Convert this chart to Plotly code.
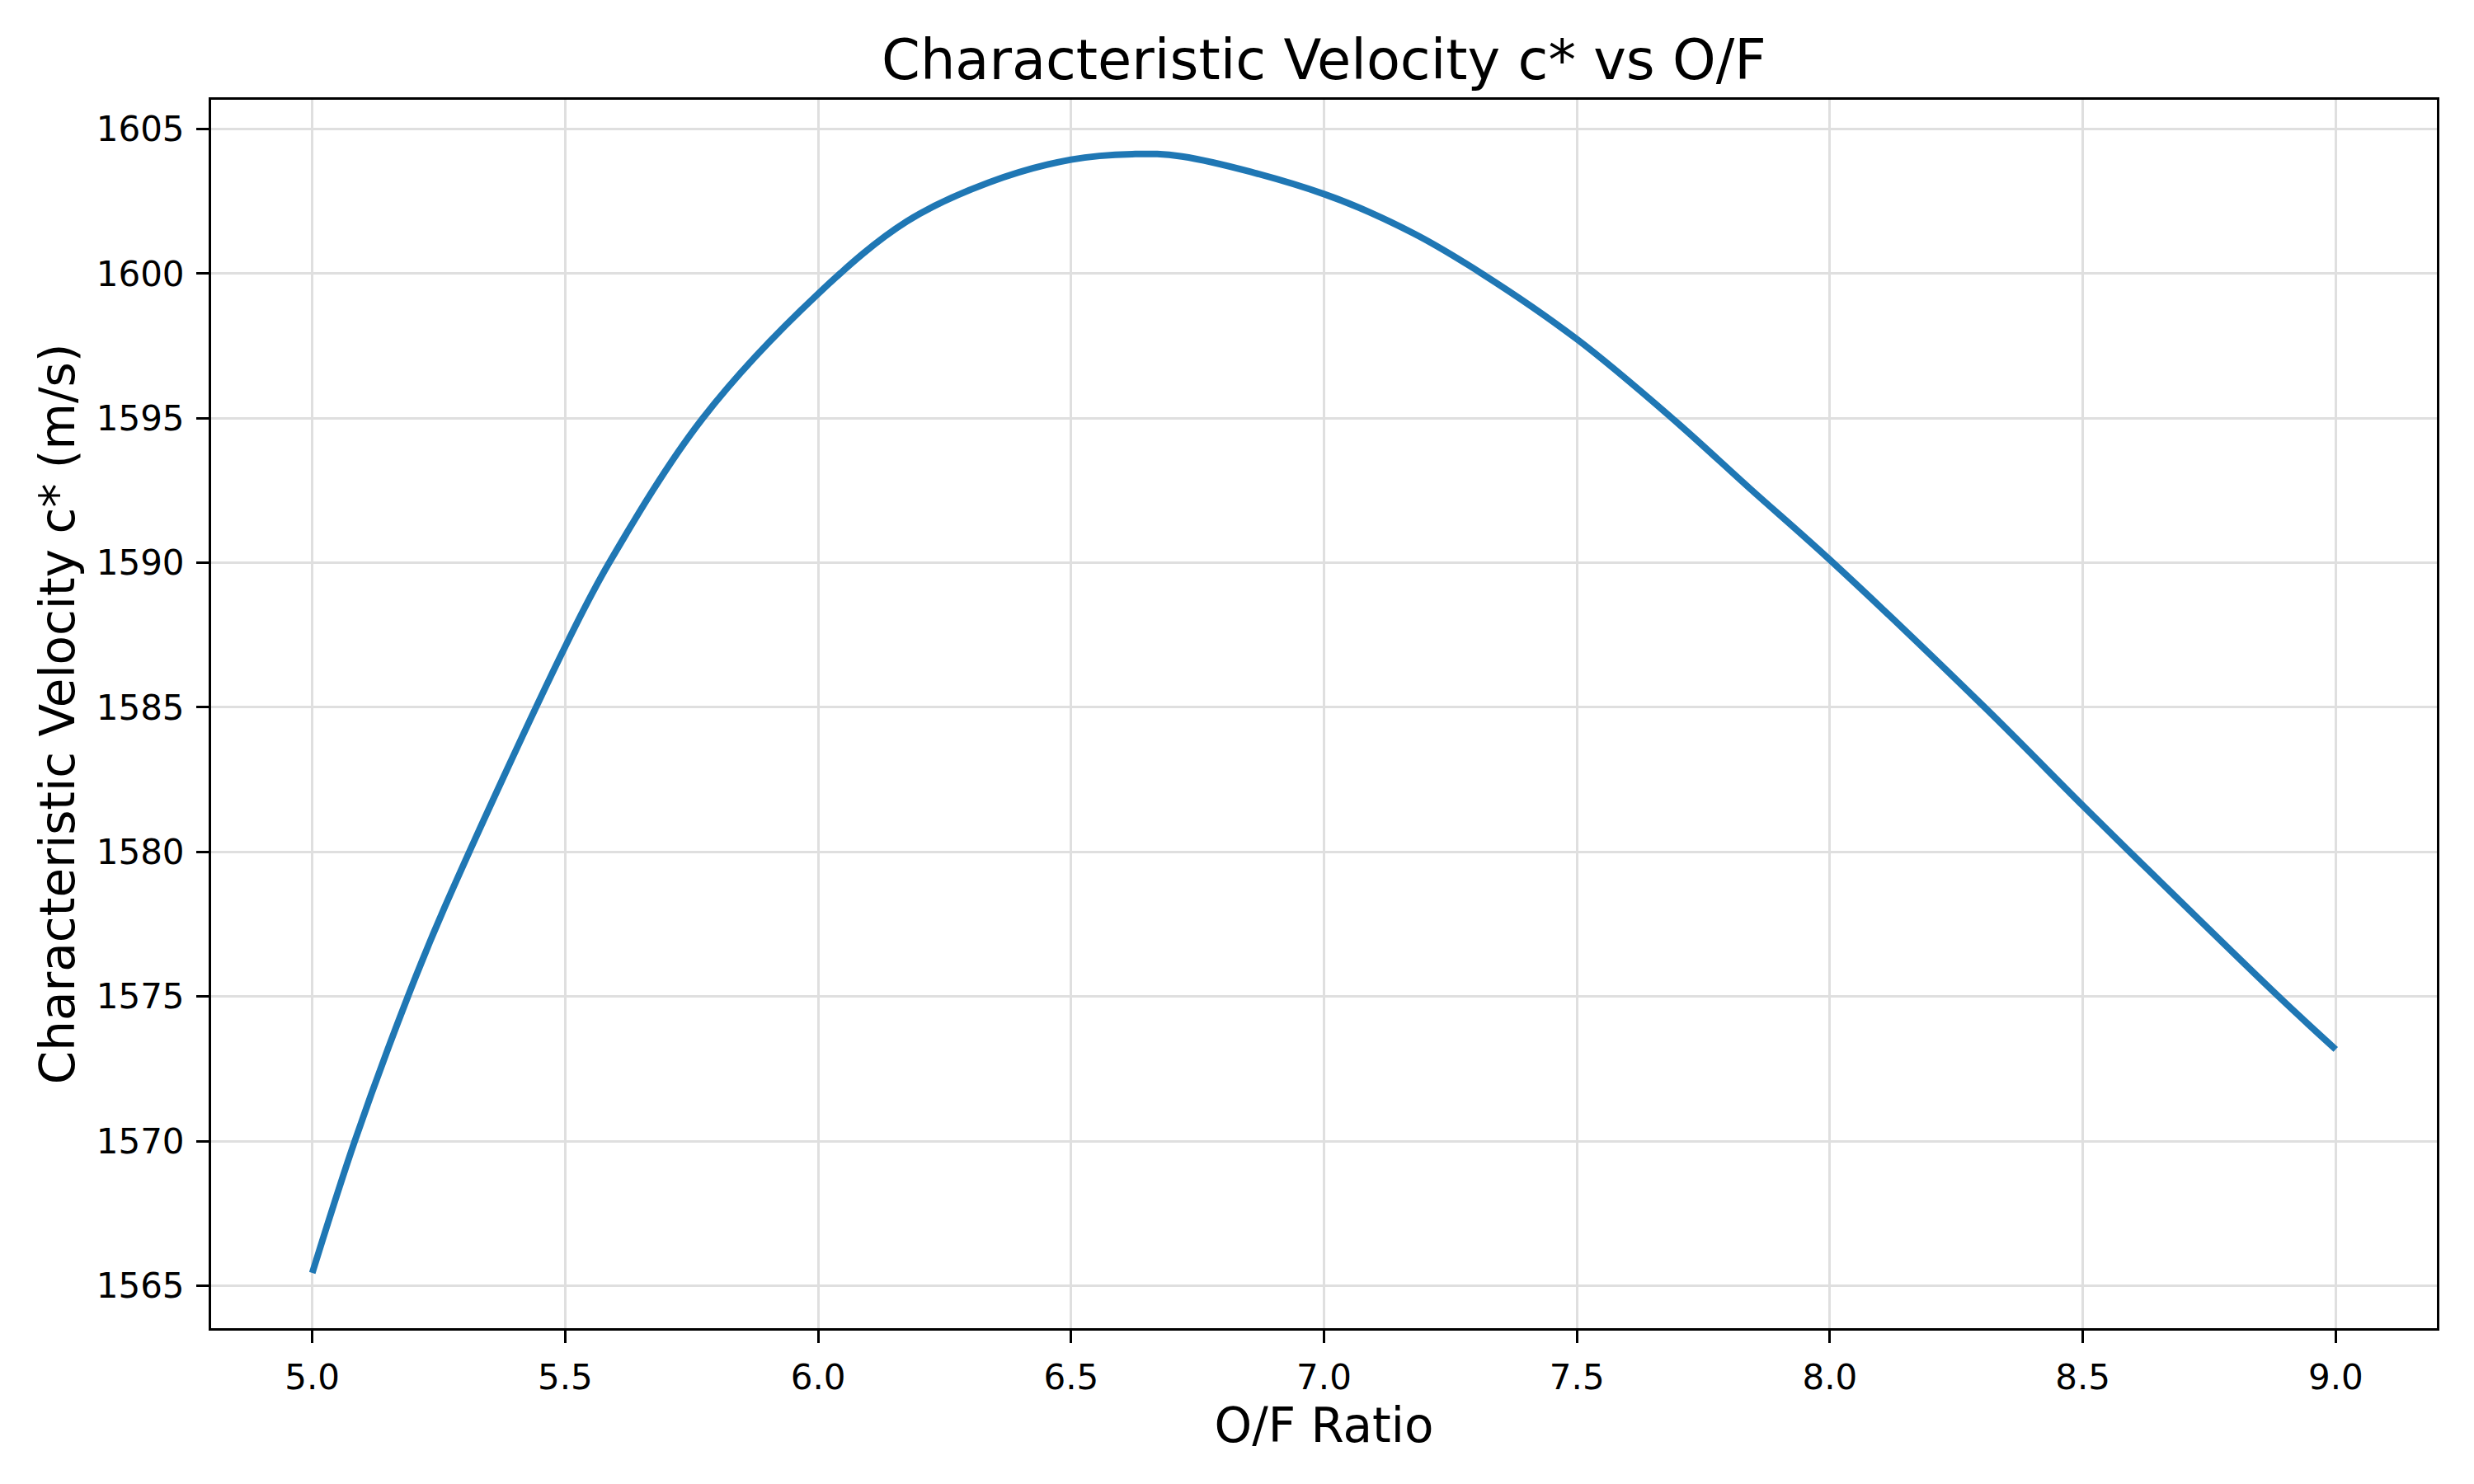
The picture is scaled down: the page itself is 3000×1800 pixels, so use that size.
import plotly.graph_objects as go

# O/F ratio values
of_ratio = [5.0, 5.084, 5.189, 5.262, 5.5, 5.587, 5.772, 6.0,
            6.175, 6.338, 6.5, 6.621, 6.719, 7.0, 7.176, 7.312, 7.5, 7.688,
            7.843, 8.0, 8.306, 8.5, 8.593, 8.887, 9.0]
# Characteristic velocity c* (m/s)
c_star = [1565.44, 1570.0, 1575.0, 1578.1, 1587.1, 1590.0, 1595.0, 1599.3,
          1601.8, 1603.15, 1603.94, 1604.13, 1604.05, 1602.75, 1601.4, 1600.0, 1597.73, 1595.0,
          1592.55, 1590.1, 1585.0, 1581.6, 1580.0, 1575.0, 1573.17]

x_ticks = [5.0, 5.5, 6.0, 6.5, 7.0, 7.5, 8.0, 8.5, 9.0]
y_ticks = [1565, 1570, 1575, 1580, 1585, 1590, 1595, 1600, 1605]

FONT = "DejaVu Sans"

fig = go.Figure()
fig.add_trace(go.Scatter(
    x=of_ratio, y=c_star, mode="lines",
    line=dict(color="#1f77b4", width=8, shape="spline", smoothing=1.0),
    showlegend=False,
))

axis_common = dict(
    showline=True, linecolor="black", linewidth=3, mirror=True,
    ticks="outside", ticklen=15, tickwidth=3, tickcolor="black",
    showgrid=True, gridcolor="#dfdfdf", gridwidth=3,
    zeroline=False,
    tickfont=dict(family=FONT, size=42, color="black"),
)

fig.update_layout(
    width=3000, height=1800,
    margin=dict(l=256, r=45, t=121, b=189, autoexpand=False),
    paper_bgcolor="white", plot_bgcolor="white",
    title=dict(text="Characteristic Velocity c* vs O/F",
               font=dict(family=FONT, size=67, color="black"),
               x=0.5, xref="paper", xanchor="center",
               y=1 - 73 / 1800, yref="container", yanchor="middle"),
    xaxis=dict(range=[4.8, 9.2], tickvals=x_ticks,
               ticktext=[f"{v:.1f}" for v in x_ticks],
               title=dict(text="O/F Ratio", font=dict(family=FONT, size=58, color="black"),
                          standoff=3),
               ticklabelstandoff=6,
               **axis_common),
    yaxis=dict(range=[1563.53, 1606.01], tickvals=y_ticks,
               ticktext=[str(v) for v in y_ticks],
               title=dict(text="Characteristic Velocity c* (m/s)",
                          font=dict(family=FONT, size=58, color="black"),
                          standoff=8),
               ticklabelstandoff=6,
               **axis_common),
)

fig.write_html("out.html")
